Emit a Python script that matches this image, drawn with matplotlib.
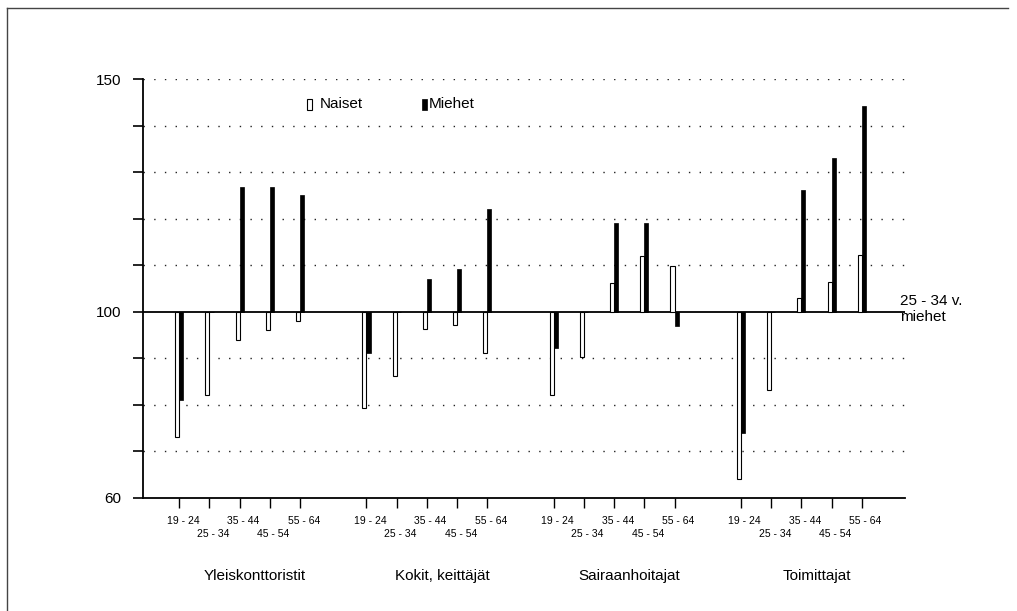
import matplotlib
matplotlib.use("Agg")
import matplotlib.pyplot as plt
from matplotlib.lines import Line2D
from matplotlib.patches import Rectangle
import numpy as np

plt.rcParams['font.family'] = ['Liberation Sans', 'DejaVu Sans']

groups = ["Yleiskonttoristit", "Kokit, keittäjät", "Sairaanhoitajat", "Toimittajat"]
ages = ["19 - 24", "25 - 34", "35 - 44", "45 - 54", "55 - 64"]
naiset = [
    [73.1, 82.0, 94.0, 96.0, 98.1],
    [79.2, 86.1, 96.3, 97.1, 91.2],
    [82.0, 90.2, 106.1, 111.9, 109.9],
    [64.1, 83.2, 103.0, 106.3, 112.2],
]
miehet = [
    [81.0, 100.0, 126.9, 126.9, 125.0],
    [91.1, 100.0, 107.1, 109.2, 122.1],
    [92.1, 100.0, 119.1, 119.1, 97.0],
    [74.0, 100.0, 126.1, 133.0, 144.2],
]
base = 100
yticks = [60, 70, 80, 90, 100, 110, 120, 130, 140, 150]
ylabels_shown = {60: "60", 100: "100", 150: "150"}

fig = plt.figure(figsize=(10.17, 6.11), dpi=100)
W, H = 1017, 611
ax = fig.add_axes([143 / W, 1 - 497.7 / H, (905 - 143) / W, (497.7 - 79.2) / H])

group_step = 6.2
bw = 0.135
pos = []
for g in range(len(groups)):
    for i in range(len(ages)):
        pos.append(g * group_step + i)
pos = np.array(pos)
nv = np.array(naiset).ravel()
mv = np.array(miehet).ravel()

ax.bar(pos - bw / 2, nv - base, bottom=base, width=bw, color="white",
       edgecolor="black", linewidth=0.8, zorder=3)
ax.bar(pos + bw / 2, mv - base, bottom=base, width=bw, color="black",
       edgecolor="black", linewidth=0.5, zorder=3)

ax.set_xlim(-1.20, 24.03)
ax.set_ylim(60, 150)

# dotted grid
for y in yticks[1:]:
    if y == base:
        continue
    ax.axhline(y, color="#222222", linewidth=1.0, linestyle=(0, (1, 6.7)), zorder=1)
ax.axhline(base, color="black", linewidth=1.3, zorder=2)

for s in ["top", "right"]:
    ax.spines[s].set_visible(False)
ax.spines["left"].set_linewidth(1.3)
ax.spines["bottom"].set_linewidth(1.3)

ax.set_yticks(yticks)
ax.set_yticklabels([ylabels_shown.get(y, "") for y in yticks], fontsize=11)
ax.tick_params(axis="y", length=7.5, width=1.2, pad=8)
ax.set_xticks(pos)
ax.set_xticklabels([])
ax.tick_params(axis="x", length=7.5, width=1.0)

# age labels, staggered
for k, p in enumerate(pos):
    i = k % len(ages)
    yoff = -23 if i % 2 == 0 else -36
    ax.annotate(ages[i], xy=(p + 0.12, 60), xycoords="data",
                xytext=(0, yoff * 0.72), textcoords="offset points",
                ha="center", va="center", fontsize=7.5)

# group labels
for g, name in enumerate(groups):
    ax.annotate(name, xy=(g * group_step + 2.5, 60), xycoords="data",
                xytext=(0, -78 * 0.72), textcoords="offset points",
                ha="center", va="center", fontsize=11)

# right side label
fig.text(900.5 / W, 1 - 300.5 / H, "25 - 34 v.", fontsize=11, ha="left", va="center")
fig.text(900.5 / W, 1 - 317 / H, "miehet", fontsize=11, ha="left", va="center")

# legend
fig.add_artist(Rectangle((307.3 / W, 1 - 109.5 / H), 4.7 / W, 10.5 / H,
                         facecolor="white", edgecolor="black", linewidth=0.8,
                         transform=fig.transFigure))
fig.text(320 / W, 1 - 104 / H, "Naiset", fontsize=11, ha="left", va="center")
fig.add_artist(Rectangle((421.7 / W, 1 - 109.5 / H), 5.6 / W, 10.5 / H,
                         facecolor="black", edgecolor="black", linewidth=0.5,
                         transform=fig.transFigure))
fig.text(429 / W, 1 - 104 / H, "Miehet", fontsize=11, ha="left", va="center")

# page frame
fig.add_artist(Line2D([7 / W, 7 / W], [0, 1 - 8 / H], color="#444444", linewidth=1.0,
                      transform=fig.transFigure))
fig.add_artist(Line2D([7 / W, 1008 / W], [1 - 8 / H, 1 - 8 / H], color="#444444",
                      linewidth=1.0, transform=fig.transFigure))

fig.savefig("out.png", dpi=100)
